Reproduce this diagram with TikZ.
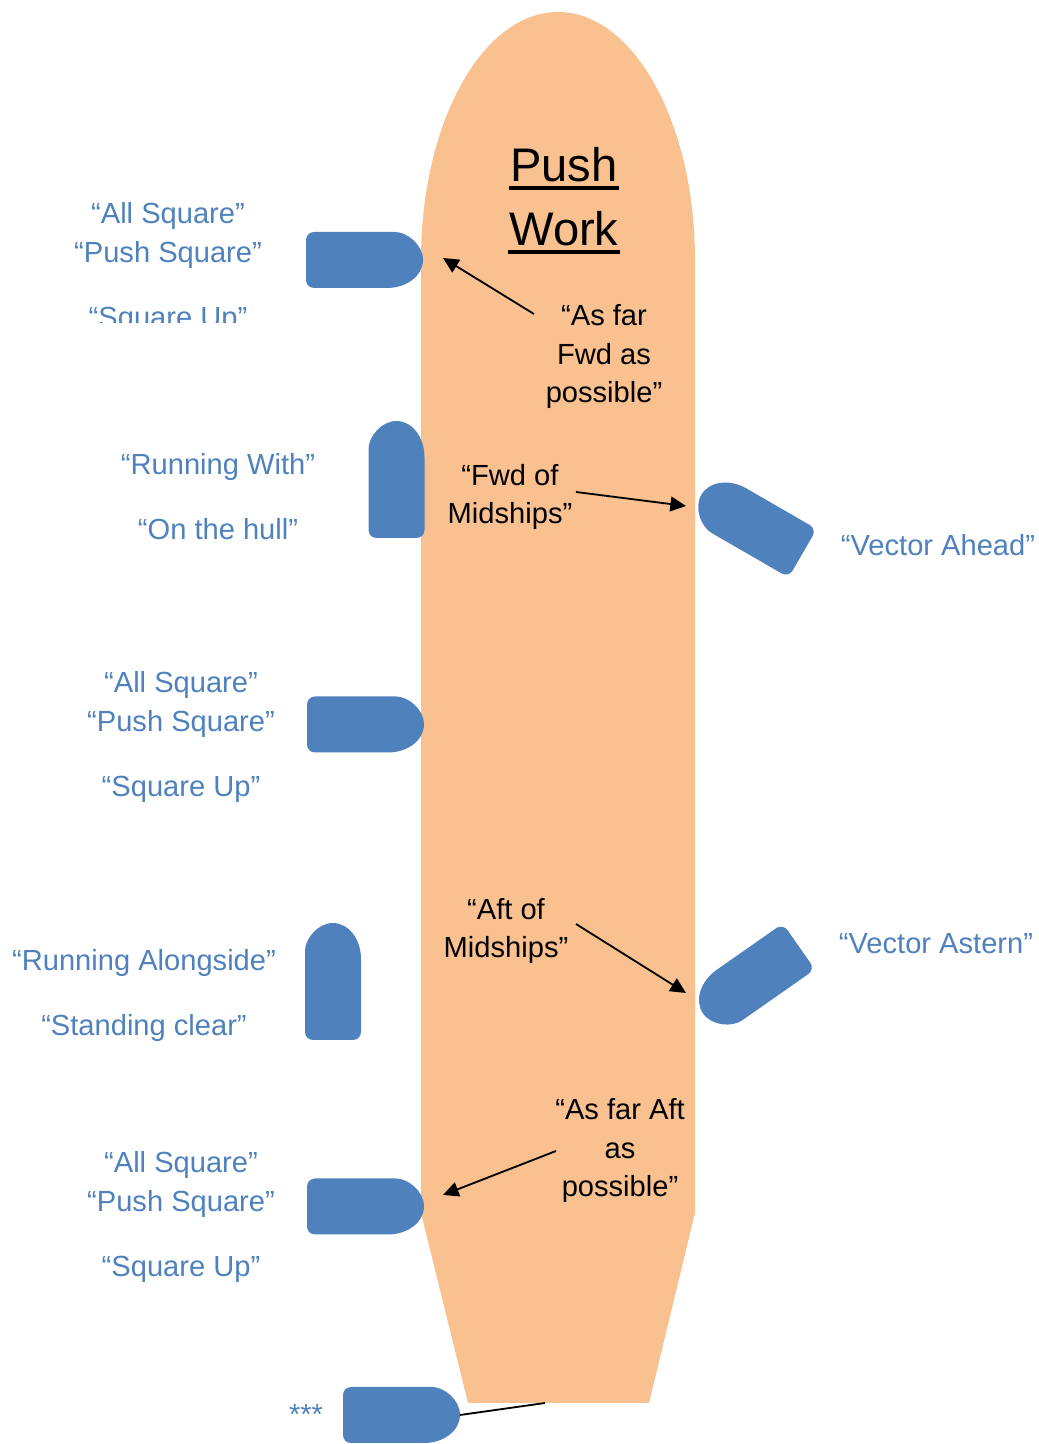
\documentclass[tikz,border=0pt]{standalone}
\usepackage{fontspec}
\setmainfont{Liberation Sans}
\usetikzlibrary{arrows.meta}
\definecolor{rumpffarbe}{RGB}{249,192,144}
\definecolor{tugblau}{RGB}{79,129,189}
\def\s{0.025}
\def\punkt#1#2{({(#1)*\s},{(1444-(#2))*\s})}
% Schlepper: runde Seite zeigt in Richtung #3
\def\tug#1#2#3{\fill[tugblau,shift={\punkt{#1}{#2}},rotate=#3,scale=\s] (22.5,28) arc[start angle=90,end angle=-90,x radius=36,y radius=28] [rounded corners=2mm] -- (-58.5,-28) -- (-58.5,28) -- cycle;}
\newcommand\strich[1]{\setbox0\hbox{#1}\rlap{\kern-1pt\vrule width \dimexpr\wd0+2pt\relax height -3pt depth 5.8pt}\box0}
\tikzset{
  blautext/.style={color=tugblau,font=\fontsize{20.7}{27.6}\selectfont,align=center,inner sep=0pt},
  schwarztext/.style={font=\fontsize{20.7}{27.6}\selectfont,align=center,inner sep=0pt},
  pfeil/.style={->,line width=1.3pt},
}

\begin{document}
\begin{tikzpicture}[>={Triangle[length=3.9mm,width=3.7mm]}]
\useasboundingbox \punkt{0}{0} rectangle \punkt{1039}{1444};
% Rumpf
\fill[rumpffarbe] \punkt{421}{1213} -- \punkt{421}{260} arc[start angle=180,end angle=0,x radius={137*\s},y radius={248*\s}] -- \punkt{695}{1213} -- \punkt{649}{1403} -- \punkt{468}{1403} -- cycle;
\path \punkt{545}{1403} coordinate (heck);
\path \punkt{460}{1415} coordinate (leine);
\draw[line width=1.3pt] (leine) -- (heck);
% Schlepper
\tug{364.5}{260}{0}
\tug{396.5}{479.5}{90}
\tug{365.5}{724.5}{0}
\tug{333}{981.5}{90}
\tug{365.5}{1206.5}{0}
\tug{401.5}{1415}{0}
\tug{752}{524}{150}
\tug{751}{980}{215}
% blaue Texte
\begin{scope}
\clip \punkt{0}{0} rectangle \punkt{420}{323};
\node[blautext] (quer1) at \punkt{168}{268} {“All Square”\\“Push Square”\\[19pt]“Square Up”};
\end{scope}
\node[blautext] (laengs1) at \punkt{218}{496.5} {“Running With”\\[19pt]“On the hull”};
\node[blautext] (quer2) at \punkt{181}{737} {“All Square”\\“Push Square”\\[19pt]“Square Up”};
\node[blautext] (laengs2) at \punkt{144}{995.5} {“Running Alongside”\\[19pt]“Standing clear”};
\node[blautext] (quer3) at \punkt{181}{1217} {“All Square”\\“Push Square”\\[19pt]“Square Up”};
\node[blautext] (sterne) at \punkt{306}{1414} {***};
\node[blautext] (voraus) at \punkt{938}{545.5} {“Vector Ahead”};
\node[blautext] (achtern) at \punkt{936}{944} {“Vector Astern”};
% schwarze Texte
\node[schwarztext,font=\fontsize{33.5}{45.5}\selectfont] (titel) at \punkt{564}{201} {\strich{Push}\\\strich{Work}};
\node[schwarztext] (vorn) at \punkt{604}{356.5} {“As far\\Fwd as\\possible”};
\node[schwarztext] (vornmitte) at \punkt{510}{497} {“Fwd of\\Midships”};
\node[schwarztext] (hintenmitte) at \punkt{506}{931} {“Aft of\\Midships”};
\node[schwarztext] (hinten) at \punkt{620}{1150.5} {“As far Aft\\as\\possible”};
% Pfeile
\path \punkt{534}{314} coordinate (a1);
\path \punkt{443}{258} coordinate (b1);
\path \punkt{576}{492} coordinate (a2);
\path \punkt{686}{506} coordinate (b2);
\path \punkt{576}{924} coordinate (a3);
\path \punkt{686}{993} coordinate (b3);
\path \punkt{556}{1151} coordinate (a4);
\path \punkt{443}{1195} coordinate (b4);
\draw[pfeil] (a1) -- (b1);
\draw[pfeil] (a2) -- (b2);
\draw[pfeil] (a3) -- (b3);
\draw[pfeil] (a4) -- (b4);
\end{tikzpicture}
\end{document}
